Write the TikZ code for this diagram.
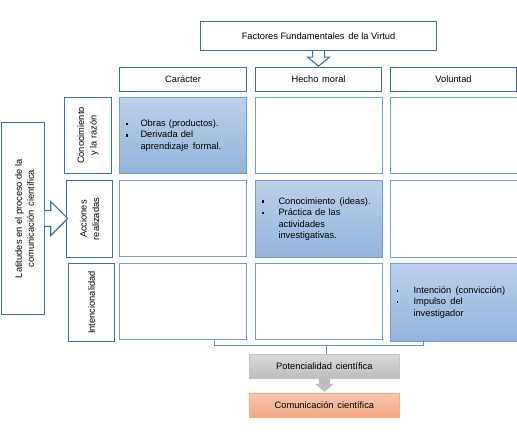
\documentclass[tikz,border=0pt]{standalone}
\usepackage{fontspec}
\setmainfont{Liberation Sans}
\usetikzlibrary{calc}
\definecolor{hdrline}{HTML}{41719C}
\definecolor{cellline}{HTML}{7A9AD4}
\definecolor{celltop}{HTML}{BCD0EA}
\definecolor{cellbot}{HTML}{93B3DD}
\definecolor{graytop}{HTML}{D9D9D9}
\definecolor{graybot}{HTML}{BDBDBD}
\definecolor{grayline}{HTML}{C4C4C4}
\definecolor{salmtop}{HTML}{FAC8AC}
\definecolor{salmbot}{HTML}{F3A581}
\definecolor{salmline}{HTML}{F4AD88}
\definecolor{braceline}{HTML}{5B8FD0}
\newcommand{\bul}{\rule[0.22ex]{2.6pt}{2.6pt}}
\newcommand{\sbul}{\rule[0.35ex]{1.8pt}{1.8pt}}
\newcommand{\xs}{\hspace{1.2pt}}
\begin{document}
\begin{tikzpicture}[x=1pt,y=-1pt,
  every node/.style={font=\fontsize{9.3}{11.5}\selectfont, inner sep=0pt},
  hdr/.style={draw=hdrline, line width=1.1pt, fill=white, anchor=north west},
  cellbox/.style={draw=cellline, line width=1pt, fill=white, anchor=north west, minimum width=127pt, minimum height=76pt},
  filled/.style={cellbox, top color=celltop, bottom color=cellbot, align=left, text width=115pt, inner xsep=6pt},
  blockarrow/.style={draw=hdrline, line width=1.1pt, fill=white},
  bracel/.style={draw=braceline, line width=1pt}]
\useasboundingbox (0,0) rectangle (517,438);

% title
\node[hdr, minimum width=236pt, minimum height=29pt] (title) at (200,21) {Factores Fundamentales \xs de la Virtud};

% column headers
\node[hdr, minimum width=127pt, minimum height=24pt] (h1) at (119,67) {Carácter};
\node[hdr, minimum width=126pt, minimum height=24pt] (h2) at (255,67) {Hecho\xs\ moral};
\node[hdr, minimum width=126pt, minimum height=24pt] (h3) at (390,67) {Voluntad};

% down hollow arrow
\draw[blockarrow] ($(title.south)+(-6,0)$) -- ++(0,6) -- ++(-5,0) -- ($(title.south)+(0,15)$) -- ($(title.south)+(11,6)$) -- ++(-5,0) -- ($(title.south)+(6,0)$);

% row labels
\node[hdr, minimum width=47pt, minimum height=76pt] (r1) at (64,97) {};
\node[rotate=90, align=center, font=\fontsize{9.3}{12.5}\selectfont] at (r1.center) {Conocimiento\\y la razón};
\node[hdr, minimum width=46pt, minimum height=77pt] (r2) at (66,180) {};
\node[rotate=90, align=center, font=\fontsize{9.3}{12.5}\selectfont] at (r2.center) {Acciones\\realizadas};
\node[hdr, minimum width=46pt, minimum height=78pt] (r3) at (68,263) {};
\node[rotate=90, align=center] at (r3.center) {Intencionalidad};

% left box
\node[hdr, minimum width=43pt, minimum height=192pt] (left) at (0.6,122) {};
\node[rotate=90, align=center, font=\fontsize{9.3}{12}\selectfont] at ($(left.center)+(2,0)$) {Latitudes en el proceso de la\\comunicación\xs\ científica};

% right hollow arrow
\draw[blockarrow] ($(left.east)+(0,-8)$) -- ++(6,0) -- ++(0,-9) -- ($(left.east)+(23,0)$) -- ($(left.east)+(6,17)$) -- ++(0,-9) -- ($(left.east)+(0,8)$);

% cells row 1
\node[filled] (c11) at (119,97) {\begin{tabular}{@{}p{15pt}@{}l@{}}\bul & Obras (productos).\\ \bul & Derivada del\\ & aprendizaje\xs\ formal.\end{tabular}};
\node[cellbox] (c12) at (255,97) {};
\node[cellbox] (c13) at (390,97) {};
% row 2
\node[cellbox] (c21) at (119,180) {};
\node[filled, minimum height=77pt] (c22) at (255,180) {\begin{tabular}{@{}p{17pt}@{}l@{}}\bul & Conocimiento\xs\ (ideas).\\ \bul & Práctica de las\\ & actividades\\ & investigativas.\end{tabular}};
\node[cellbox, minimum height=77pt] (c23) at (390,180) {};
% row 3
\node[cellbox] (c31) at (119,263) {};
\node[cellbox] (c32) at (255,263) {};
\node[filled, minimum height=78pt] (c33) at (390,263) {\begin{tabular}{@{}p{17pt}@{}l@{}}\sbul & Intención\xs\ (convicción)\\ \sbul & Impulso\xs\ del\\ & investigador\end{tabular}};

% brace
\coordinate (bl) at (214,340);
\coordinate (br) at (423,340);
\coordinate (bm) at (326,346);
\draw[bracel] (bl) -- (bl |- bm) -- (br |- bm) -- (br);

% bottom boxes
\node[anchor=north west, minimum width=150pt, minimum height=24pt, draw=grayline, line width=0.8pt, top color=graytop, bottom color=graybot] (pot) at (249,354) {Potencialidad\xs\ científica};
\draw[bracel] (bm) -- (bm |- pot.north);
\node[anchor=north west, minimum width=150pt, minimum height=24pt, draw=salmline, line width=0.8pt, top color=salmtop, bottom color=salmbot] (com) at (249,393) {Comunicación\xs\ científica};
\fill[graybot] ($(pot.south)+(-5.5,0)$) -- ++(0,5) -- ++(-4,0) -- ($(pot.south)+(0,13)$) -- ($(pot.south)+(9.5,5)$) -- ++(-4,0) -- ($(pot.south)+(5.5,0)$) -- cycle;
\end{tikzpicture}
\end{document}
